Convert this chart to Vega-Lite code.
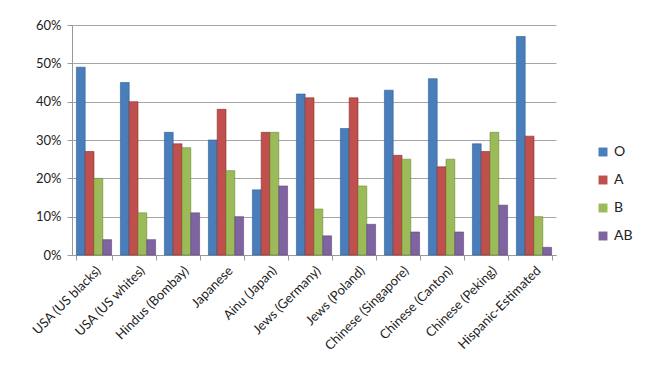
{
  "$schema": "https://vega.github.io/schema/vega-lite/v6.json",
  "width": 484,
  "height": 230,
  "padding": {"left": 30, "top": 19, "right": 5, "bottom": 5},
  "background": "white",
  "data": {"values": [
    {"group": "USA (US blacks)", "type": "O", "v": 0.49},
    {"group": "USA (US blacks)", "type": "A", "v": 0.27},
    {"group": "USA (US blacks)", "type": "B", "v": 0.20},
    {"group": "USA (US blacks)", "type": "AB", "v": 0.04},
    {"group": "USA (US whites)", "type": "O", "v": 0.45},
    {"group": "USA (US whites)", "type": "A", "v": 0.40},
    {"group": "USA (US whites)", "type": "B", "v": 0.11},
    {"group": "USA (US whites)", "type": "AB", "v": 0.04},
    {"group": "Hindus (Bombay)", "type": "O", "v": 0.32},
    {"group": "Hindus (Bombay)", "type": "A", "v": 0.29},
    {"group": "Hindus (Bombay)", "type": "B", "v": 0.28},
    {"group": "Hindus (Bombay)", "type": "AB", "v": 0.11},
    {"group": "Japanese", "type": "O", "v": 0.30},
    {"group": "Japanese", "type": "A", "v": 0.38},
    {"group": "Japanese", "type": "B", "v": 0.22},
    {"group": "Japanese", "type": "AB", "v": 0.10},
    {"group": "Ainu (Japan)", "type": "O", "v": 0.17},
    {"group": "Ainu (Japan)", "type": "A", "v": 0.32},
    {"group": "Ainu (Japan)", "type": "B", "v": 0.32},
    {"group": "Ainu (Japan)", "type": "AB", "v": 0.18},
    {"group": "Jews (Germany)", "type": "O", "v": 0.42},
    {"group": "Jews (Germany)", "type": "A", "v": 0.41},
    {"group": "Jews (Germany)", "type": "B", "v": 0.12},
    {"group": "Jews (Germany)", "type": "AB", "v": 0.05},
    {"group": "Jews (Poland)", "type": "O", "v": 0.33},
    {"group": "Jews (Poland)", "type": "A", "v": 0.41},
    {"group": "Jews (Poland)", "type": "B", "v": 0.18},
    {"group": "Jews (Poland)", "type": "AB", "v": 0.08},
    {"group": "Chinese (Singapore)", "type": "O", "v": 0.43},
    {"group": "Chinese (Singapore)", "type": "A", "v": 0.26},
    {"group": "Chinese (Singapore)", "type": "B", "v": 0.25},
    {"group": "Chinese (Singapore)", "type": "AB", "v": 0.06},
    {"group": "Chinese (Canton)", "type": "O", "v": 0.46},
    {"group": "Chinese (Canton)", "type": "A", "v": 0.23},
    {"group": "Chinese (Canton)", "type": "B", "v": 0.25},
    {"group": "Chinese (Canton)", "type": "AB", "v": 0.06},
    {"group": "Chinese (Peking)", "type": "O", "v": 0.29},
    {"group": "Chinese (Peking)", "type": "A", "v": 0.27},
    {"group": "Chinese (Peking)", "type": "B", "v": 0.32},
    {"group": "Chinese (Peking)", "type": "AB", "v": 0.13},
    {"group": "Hispanic-Estimated", "type": "O", "v": 0.57},
    {"group": "Hispanic-Estimated", "type": "A", "v": 0.31},
    {"group": "Hispanic-Estimated", "type": "B", "v": 0.10},
    {"group": "Hispanic-Estimated", "type": "AB", "v": 0.02}
  ]},
  "mark": {"type": "bar", "strokeWidth": 0.6},
  "encoding": {
    "x": {
      "field": "group", "type": "nominal", "sort": null,
      "scale": {"paddingInner": 0.2, "paddingOuter": 0.1},
      "axis": {"title": null, "labelAngle": -45, "labelFont": "Lato", "labelFontSize": 13, "labelColor": "#222", "domainColor": "#999", "tickColor": "#999", "tickBand": "extent", "labelPadding": 4}
    },
    "xOffset": {"field": "type", "sort": ["O", "A", "B", "AB"]},
    "y": {
      "field": "v", "type": "quantitative",
      "scale": {"domain": [0, 0.6], "nice": false},
      "axis": {"title": null, "format": ".0%", "values": [0, 0.1, 0.2, 0.3, 0.4, 0.5, 0.6], "labelOverlap": false, "labelFont": "Lato", "labelFontSize": 13, "labelColor": "#222", "gridColor": "#a6a6a6", "domainColor": "#999", "tickColor": "#999", "labelPadding": 6}
    },
    "color": {
      "field": "type", "type": "nominal", "sort": ["O", "A", "B", "AB"],
      "scale": {"domain": ["O", "A", "B", "AB"], "range": ["#4a7ebb", "#c0504d", "#9bbb59", "#8064a2"]},
      "legend": {"title": null, "symbolType": "square", "symbolSize": 80, "labelFont": "Lato", "labelFontSize": 14, "labelColor": "#222", "rowPadding": 14, "orient": "none", "legendX": 524, "legendY": 120, "symbolStrokeWidth": 0}
    },
    "stroke": {
      "field": "type", "type": "nominal",
      "scale": {"domain": ["O", "A", "B", "AB"], "range": ["#2c5d98", "#8c2c2a", "#6f8a35", "#5c4577"]},
      "legend": null
    }
  },
  "config": {"view": {"stroke": null}}
}
